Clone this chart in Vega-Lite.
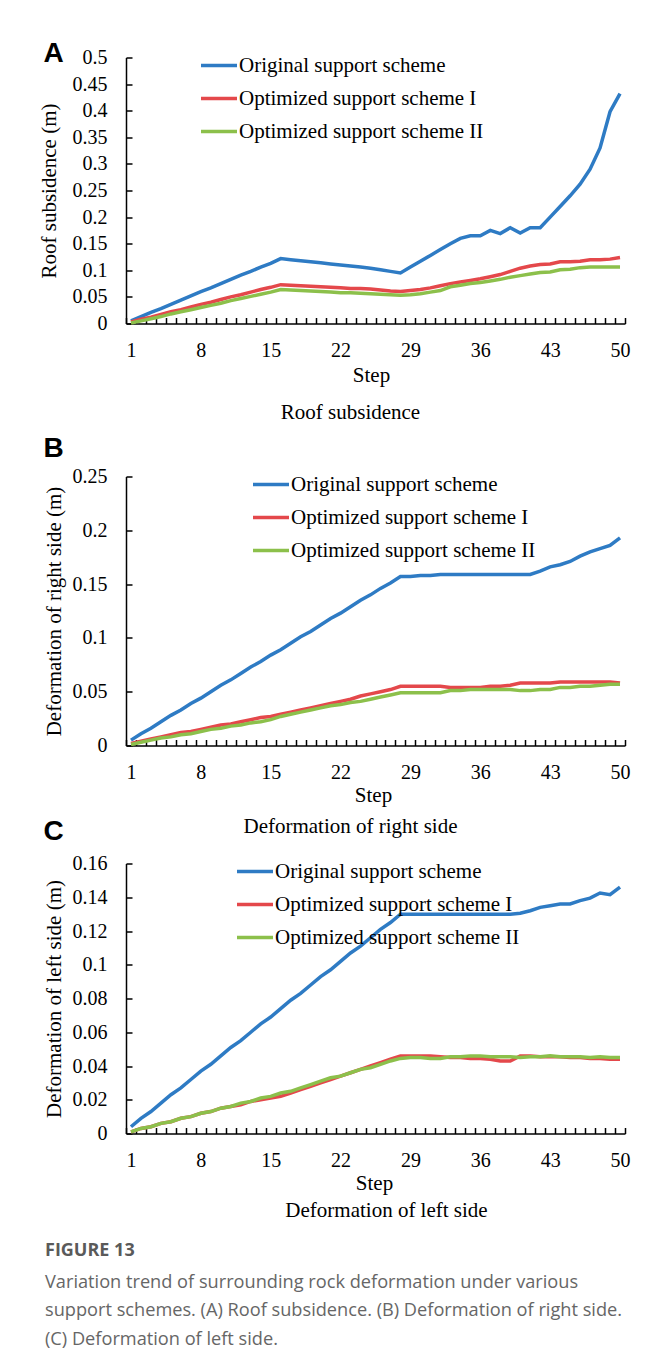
{
  "$schema": "https://vega.github.io/schema/vega-lite/v6.json",
  "background": "white",
  "padding": {"left": 38, "top": 38.5, "right": 0, "bottom": 10},
  "config": {
    "font": "Liberation Serif",
    "view": {"stroke": null},
    "axis": {"domainColor": "black", "domainWidth": 1.5, "tickColor": "black", "tickWidth": 1.5, "tickSize": 6, "grid": false, "labelFont": "Liberation Serif", "labelFontSize": 20, "labelColor": "black", "titleFont": "Liberation Serif", "titleFontSize": 21, "titleFontWeight": "normal", "titleColor": "black", "labelFlush": false, "labelOverlap": false, "labelBound": false},
    "legend": {"orient": "none", "symbolType": "stroke", "symbolSize": 1296, "symbolStrokeWidth": 4, "labelFont": "Liberation Serif", "labelFontSize": 21, "labelColor": "black", "labelOffset": 0, "rowPadding": 3, "labelLimit": 400, "title": null},
    "line": {"strokeWidth": 3.5}
  },
  "datasets": {
    "roof": [
      {"step":1,"original":0.005,"optimized1":0.003,"optimized2":0.001},
      {"step":2,"original":0.013,"optimized1":0.008,"optimized2":0.005},
      {"step":3,"original":0.021,"optimized1":0.012,"optimized2":0.009},
      {"step":4,"original":0.028,"optimized1":0.017,"optimized2":0.013},
      {"step":5,"original":0.036,"optimized1":0.022,"optimized2":0.018},
      {"step":6,"original":0.044,"optimized1":0.026,"optimized2":0.022},
      {"step":7,"original":0.052,"optimized1":0.031,"optimized2":0.026},
      {"step":8,"original":0.060,"optimized1":0.036,"optimized2":0.030},
      {"step":9,"original":0.067,"optimized1":0.040,"optimized2":0.034},
      {"step":10,"original":0.075,"optimized1":0.045,"optimized2":0.038},
      {"step":11,"original":0.083,"optimized1":0.050,"optimized2":0.043},
      {"step":12,"original":0.091,"optimized1":0.054,"optimized2":0.047},
      {"step":13,"original":0.098,"optimized1":0.059,"optimized2":0.051},
      {"step":14,"original":0.106,"optimized1":0.064,"optimized2":0.055},
      {"step":15,"original":0.113,"optimized1":0.068,"optimized2":0.059},
      {"step":16,"original":0.122,"optimized1":0.073,"optimized2":0.064},
      {"step":17,"original":0.120,"optimized1":0.072,"optimized2":0.063},
      {"step":18,"original":0.118,"optimized1":0.071,"optimized2":0.062},
      {"step":19,"original":0.116,"optimized1":0.070,"optimized2":0.061},
      {"step":20,"original":0.114,"optimized1":0.069,"optimized2":0.060},
      {"step":21,"original":0.112,"optimized1":0.068,"optimized2":0.059},
      {"step":22,"original":0.110,"optimized1":0.067,"optimized2":0.058},
      {"step":23,"original":0.108,"optimized1":0.066,"optimized2":0.058},
      {"step":24,"original":0.106,"optimized1":0.066,"optimized2":0.057},
      {"step":25,"original":0.104,"optimized1":0.065,"optimized2":0.056},
      {"step":26,"original":0.101,"optimized1":0.063,"optimized2":0.055},
      {"step":27,"original":0.098,"optimized1":0.061,"optimized2":0.054},
      {"step":28,"original":0.095,"optimized1":0.060,"optimized2":0.053},
      {"step":29,"original":0.106,"optimized1":0.062,"optimized2":0.054},
      {"step":30,"original":0.117,"optimized1":0.064,"optimized2":0.056},
      {"step":31,"original":0.128,"optimized1":0.067,"optimized2":0.059},
      {"step":32,"original":0.139,"optimized1":0.071,"optimized2":0.062},
      {"step":33,"original":0.150,"optimized1":0.075,"optimized2":0.069},
      {"step":34,"original":0.160,"optimized1":0.078,"optimized2":0.072},
      {"step":35,"original":0.165,"optimized1":0.081,"optimized2":0.075},
      {"step":36,"original":0.165,"optimized1":0.084,"optimized2":0.077},
      {"step":37,"original":0.175,"optimized1":0.088,"optimized2":0.080},
      {"step":38,"original":0.169,"optimized1":0.092,"optimized2":0.083},
      {"step":39,"original":0.180,"optimized1":0.098,"optimized2":0.087},
      {"step":40,"original":0.170,"optimized1":0.104,"optimized2":0.090},
      {"step":41,"original":0.180,"optimized1":0.108,"optimized2":0.093},
      {"step":42,"original":0.180,"optimized1":0.111,"optimized2":0.096},
      {"step":43,"original":0.200,"optimized1":0.112,"optimized2":0.097},
      {"step":44,"original":0.220,"optimized1":0.116,"optimized2":0.101},
      {"step":45,"original":0.240,"optimized1":0.116,"optimized2":0.102},
      {"step":46,"original":0.262,"optimized1":0.117,"optimized2":0.105},
      {"step":47,"original":0.290,"optimized1":0.120,"optimized2":0.106},
      {"step":48,"original":0.330,"optimized1":0.120,"optimized2":0.106},
      {"step":49,"original":0.398,"optimized1":0.121,"optimized2":0.106},
      {"step":50,"original":0.432,"optimized1":0.124,"optimized2":0.106}
    ],
    "right": [
      {"step":1,"original":0.005,"optimized1":0.002,"optimized2":0.001},
      {"step":2,"original":0.011,"optimized1":0.004,"optimized2":0.003},
      {"step":3,"original":0.016,"optimized1":0.006,"optimized2":0.005},
      {"step":4,"original":0.022,"optimized1":0.008,"optimized2":0.007},
      {"step":5,"original":0.028,"optimized1":0.010,"optimized2":0.008},
      {"step":6,"original":0.033,"optimized1":0.012,"optimized2":0.010},
      {"step":7,"original":0.039,"optimized1":0.013,"optimized2":0.011},
      {"step":8,"original":0.044,"optimized1":0.015,"optimized2":0.013},
      {"step":9,"original":0.050,"optimized1":0.017,"optimized2":0.015},
      {"step":10,"original":0.056,"optimized1":0.019,"optimized2":0.016},
      {"step":11,"original":0.061,"optimized1":0.020,"optimized2":0.018},
      {"step":12,"original":0.067,"optimized1":0.022,"optimized2":0.019},
      {"step":13,"original":0.073,"optimized1":0.024,"optimized2":0.021},
      {"step":14,"original":0.078,"optimized1":0.026,"optimized2":0.022},
      {"step":15,"original":0.084,"optimized1":0.027,"optimized2":0.024},
      {"step":16,"original":0.089,"optimized1":0.029,"optimized2":0.027},
      {"step":17,"original":0.095,"optimized1":0.031,"optimized2":0.029},
      {"step":18,"original":0.101,"optimized1":0.033,"optimized2":0.031},
      {"step":19,"original":0.106,"optimized1":0.035,"optimized2":0.033},
      {"step":20,"original":0.112,"optimized1":0.037,"optimized2":0.035},
      {"step":21,"original":0.118,"optimized1":0.039,"optimized2":0.037},
      {"step":22,"original":0.123,"optimized1":0.041,"optimized2":0.038},
      {"step":23,"original":0.129,"optimized1":0.043,"optimized2":0.040},
      {"step":24,"original":0.135,"optimized1":0.046,"optimized2":0.041},
      {"step":25,"original":0.140,"optimized1":0.048,"optimized2":0.043},
      {"step":26,"original":0.146,"optimized1":0.050,"optimized2":0.045},
      {"step":27,"original":0.151,"optimized1":0.052,"optimized2":0.047},
      {"step":28,"original":0.157,"optimized1":0.055,"optimized2":0.049},
      {"step":29,"original":0.157,"optimized1":0.055,"optimized2":0.049},
      {"step":30,"original":0.158,"optimized1":0.055,"optimized2":0.049},
      {"step":31,"original":0.158,"optimized1":0.055,"optimized2":0.049},
      {"step":32,"original":0.159,"optimized1":0.055,"optimized2":0.049},
      {"step":33,"original":0.159,"optimized1":0.054,"optimized2":0.051},
      {"step":34,"original":0.159,"optimized1":0.054,"optimized2":0.051},
      {"step":35,"original":0.159,"optimized1":0.054,"optimized2":0.052},
      {"step":36,"original":0.159,"optimized1":0.054,"optimized2":0.052},
      {"step":37,"original":0.159,"optimized1":0.055,"optimized2":0.052},
      {"step":38,"original":0.159,"optimized1":0.055,"optimized2":0.052},
      {"step":39,"original":0.159,"optimized1":0.056,"optimized2":0.052},
      {"step":40,"original":0.159,"optimized1":0.058,"optimized2":0.051},
      {"step":41,"original":0.159,"optimized1":0.058,"optimized2":0.051},
      {"step":42,"original":0.162,"optimized1":0.058,"optimized2":0.052},
      {"step":43,"original":0.166,"optimized1":0.058,"optimized2":0.052},
      {"step":44,"original":0.168,"optimized1":0.059,"optimized2":0.054},
      {"step":45,"original":0.171,"optimized1":0.059,"optimized2":0.054},
      {"step":46,"original":0.176,"optimized1":0.059,"optimized2":0.055},
      {"step":47,"original":0.180,"optimized1":0.059,"optimized2":0.055},
      {"step":48,"original":0.183,"optimized1":0.059,"optimized2":0.056},
      {"step":49,"original":0.186,"optimized1":0.059,"optimized2":0.057},
      {"step":50,"original":0.193,"optimized1":0.058,"optimized2":0.057}
    ],
    "left": [
      {"step":1,"original":0.004,"optimized1":0.001,"optimized2":0.001},
      {"step":2,"original":0.009,"optimized1":0.003,"optimized2":0.003},
      {"step":3,"original":0.013,"optimized1":0.004,"optimized2":0.004},
      {"step":4,"original":0.018,"optimized1":0.006,"optimized2":0.006},
      {"step":5,"original":0.023,"optimized1":0.007,"optimized2":0.007},
      {"step":6,"original":0.027,"optimized1":0.009,"optimized2":0.009},
      {"step":7,"original":0.032,"optimized1":0.010,"optimized2":0.010},
      {"step":8,"original":0.037,"optimized1":0.012,"optimized2":0.012},
      {"step":9,"original":0.041,"optimized1":0.013,"optimized2":0.013},
      {"step":10,"original":0.046,"optimized1":0.015,"optimized2":0.015},
      {"step":11,"original":0.051,"optimized1":0.016,"optimized2":0.016},
      {"step":12,"original":0.055,"optimized1":0.017,"optimized2":0.018},
      {"step":13,"original":0.060,"optimized1":0.019,"optimized2":0.019},
      {"step":14,"original":0.065,"optimized1":0.020,"optimized2":0.021},
      {"step":15,"original":0.069,"optimized1":0.021,"optimized2":0.022},
      {"step":16,"original":0.074,"optimized1":0.022,"optimized2":0.024},
      {"step":17,"original":0.079,"optimized1":0.024,"optimized2":0.025},
      {"step":18,"original":0.083,"optimized1":0.026,"optimized2":0.027},
      {"step":19,"original":0.088,"optimized1":0.028,"optimized2":0.029},
      {"step":20,"original":0.093,"optimized1":0.030,"optimized2":0.031},
      {"step":21,"original":0.097,"optimized1":0.032,"optimized2":0.033},
      {"step":22,"original":0.102,"optimized1":0.034,"optimized2":0.034},
      {"step":23,"original":0.107,"optimized1":0.036,"optimized2":0.036},
      {"step":24,"original":0.111,"optimized1":0.038,"optimized2":0.038},
      {"step":25,"original":0.116,"optimized1":0.040,"optimized2":0.039},
      {"step":26,"original":0.121,"optimized1":0.042,"optimized2":0.041},
      {"step":27,"original":0.125,"optimized1":0.044,"optimized2":0.043},
      {"step":28,"original":0.130,"optimized1":0.046,"optimized2":0.0445},
      {"step":29,"original":0.130,"optimized1":0.046,"optimized2":0.045},
      {"step":30,"original":0.130,"optimized1":0.046,"optimized2":0.045},
      {"step":31,"original":0.130,"optimized1":0.046,"optimized2":0.0445},
      {"step":32,"original":0.130,"optimized1":0.0455,"optimized2":0.0445},
      {"step":33,"original":0.130,"optimized1":0.045,"optimized2":0.0455},
      {"step":34,"original":0.130,"optimized1":0.045,"optimized2":0.0455},
      {"step":35,"original":0.130,"optimized1":0.0445,"optimized2":0.046},
      {"step":36,"original":0.130,"optimized1":0.0445,"optimized2":0.046},
      {"step":37,"original":0.130,"optimized1":0.044,"optimized2":0.0455},
      {"step":38,"original":0.130,"optimized1":0.043,"optimized2":0.0455},
      {"step":39,"original":0.130,"optimized1":0.043,"optimized2":0.0455},
      {"step":40,"original":0.1305,"optimized1":0.046,"optimized2":0.045},
      {"step":41,"original":0.132,"optimized1":0.046,"optimized2":0.0455},
      {"step":42,"original":0.134,"optimized1":0.0455,"optimized2":0.0455},
      {"step":43,"original":0.135,"optimized1":0.0455,"optimized2":0.046},
      {"step":44,"original":0.136,"optimized1":0.0455,"optimized2":0.0455},
      {"step":45,"original":0.136,"optimized1":0.045,"optimized2":0.0455},
      {"step":46,"original":0.138,"optimized1":0.045,"optimized2":0.0455},
      {"step":47,"original":0.1395,"optimized1":0.0445,"optimized2":0.045},
      {"step":48,"original":0.1425,"optimized1":0.0445,"optimized2":0.0455},
      {"step":49,"original":0.1415,"optimized1":0.044,"optimized2":0.045},
      {"step":50,"original":0.146,"optimized1":0.044,"optimized2":0.045}
    ]
  },
  "title": {
    "text": "FIGURE 13",
    "subtitle": ["Variation trend of surrounding rock deformation under various", "support schemes. (A) Roof subsidence. (B) Deformation of right side.", "(C) Deformation of left side."],
    "orient": "bottom", "anchor": "start", "frame": "bounds", "offset": 21, "dx": 7,
    "font": "Open Sans", "fontSize": 18, "fontWeight": "bold", "color": "#5a5a5a",
    "subtitleFont": "Open Sans", "subtitleFontSize": 18.2, "subtitleColor": "#666666", "subtitleLineHeight": 28.5, "subtitlePadding": 14
  },
  "bounds": "flush",
  "spacing": 153,
  "resolve": {"scale": {"color": "independent"}, "legend": {"color": "independent"}},
  "vconcat": [
    {
      "width": 499, "height": 266,
      "data": {"name": "roof"},
      "transform": [{"fold": ["original", "optimized1", "optimized2"], "as": ["scheme", "value"]}],
      "resolve": {"axis": {"x": "independent", "y": "independent"}},
      "layer": [
        {
          "mark": {"type": "line", "strokeWidth": 3.5},
          "encoding": {
            "x": {"field": "step", "type": "quantitative", "scale": {"domain": [0.5, 50.5], "nice": false, "zero": false},
              "axis": {"orient": "bottom", "ticks": false, "values": [0.5,7.5,14.5,21.5,28.5,35.5,42.5,49.5],
                "labelExpr": "format(datum.value + 0.5, 'd')", "labelOffset": 5, "labelPadding": 17,
                "title": "Step", "titleX": 245, "titleY": 52, "titleAlign": "center", "titleBaseline": "middle"}},
            "y": {"field": "value", "type": "quantitative", "scale": {"domain": [0, 0.5], "nice": false},
              "axis": {"orient": "left", "ticks": false, "values": [0,0.05,0.1,0.15,0.2,0.25,0.3,0.35,0.4,0.45,0.5], "format": "~g", "labelPadding": 19,
                "title": "Roof subsidence (m)", "titleX": -77, "titleY": 133, "titleAngle": 270, "titleAlign": "center", "titleBaseline": "middle"}},
            "color": {"field": "scheme", "type": "nominal", "scale": {"domain": ["original", "optimized1", "optimized2"], "range": ["#2E7BC4", "#E4484B", "#8CC04B"]},
              "legend": {"legendX": 73, "legendY": -12, "labelExpr": "datum.value == 'original' ? 'Original support scheme' : datum.value == 'optimized1' ? 'Optimized support scheme I' : 'Optimized support scheme II'"}}
          }
        },
        {
          "mark": {"type": "point", "opacity": 0},
          "encoding": {
            "x": {"field": "step", "type": "quantitative", "scale": {"domain": [0.5, 50.5], "nice": false, "zero": false},
              "axis": {"orient": "bottom", "domain": false, "ticks": false, "labels": false,
                "grid": true, "gridColor": "black", "gridWidth": 1.5, "gridDash": [6, 2000], "gridDashOffset": 1746,
                "values": [0.5,1.5,2.5,3.5,4.5,5.5,6.5,7.5,8.5,9.5,10.5,11.5,12.5,13.5,14.5,15.5,16.5,17.5,18.5,19.5,20.5,21.5,22.5,23.5,24.5,25.5,26.5,27.5,28.5,29.5,30.5,31.5,32.5,33.5,34.5,35.5,36.5,37.5,38.5,39.5,40.5,41.5,42.5,43.5,44.5,45.5,46.5,47.5,48.5,49.5,50.5],
                "title": "Roof subsidence", "titleX": 224, "titleY": 89, "titleAlign": "center", "titleBaseline": "middle"}},
            "y": {"field": "value", "type": "quantitative", "scale": {"domain": [0, 0.5], "nice": false},
              "axis": {"orient": "left", "domain": false, "ticks": false, "labels": false,
                "grid": true, "gridColor": "black", "gridWidth": 1.5, "gridDash": [6, 2000], "gridDashOffset": 0,
                "values": [0,0.05,0.1,0.15,0.2,0.25,0.3,0.35,0.4,0.45,0.5],
                "title": "A", "titleAngle": 0, "titleX": -83, "titleY": -4.5, "titleAlign": "left", "titleBaseline": "middle", "titleFont": "Liberation Sans", "titleFontWeight": "bold", "titleFontSize": 28}}
          }
        }
      ]
    },
    {
      "bounds": "flush",
      "spacing": 118,
      "resolve": {"scale": {"color": "independent"}, "legend": {"color": "independent"}},
      "vconcat": [
        {
          "width": 499, "height": 269,
          "data": {"name": "right"},
          "transform": [{"fold": ["original", "optimized1", "optimized2"], "as": ["scheme", "value"]}],
          "resolve": {"axis": {"x": "independent", "y": "independent"}},
          "layer": [
            {
              "mark": {"type": "line", "strokeWidth": 3.5},
              "encoding": {
                "x": {"field": "step", "type": "quantitative", "scale": {"domain": [0.5, 50.5], "nice": false, "zero": false},
                  "axis": {"orient": "bottom", "ticks": false, "values": [0.5,7.5,14.5,21.5,28.5,35.5,42.5,49.5],
                    "labelExpr": "format(datum.value + 0.5, 'd')", "labelOffset": 5, "labelPadding": 17,
                    "title": "Step", "titleX": 247, "titleY": 50, "titleAlign": "center", "titleBaseline": "middle"}},
                "y": {"field": "value", "type": "quantitative", "scale": {"domain": [0, 0.25], "nice": false},
                  "axis": {"orient": "left", "ticks": false, "values": [0,0.05,0.1,0.15,0.2,0.25], "format": "~g", "labelPadding": 19,
                    "title": "Deformation of right side (m)", "titleX": -72, "titleY": 134.5, "titleAngle": 270, "titleAlign": "center", "titleBaseline": "middle"}},
                "color": {"field": "scheme", "type": "nominal", "scale": {"domain": ["original", "optimized1", "optimized2"], "range": ["#2E7BC4", "#E4484B", "#8CC04B"]},
                  "legend": {"legendX": 125, "legendY": -12, "labelExpr": "datum.value == 'original' ? 'Original support scheme' : datum.value == 'optimized1' ? 'Optimized support scheme I' : 'Optimized support scheme II'"}}
              }
            },
            {
              "mark": {"type": "point", "opacity": 0},
              "encoding": {
                "x": {"field": "step", "type": "quantitative", "scale": {"domain": [0.5, 50.5], "nice": false, "zero": false},
                  "axis": {"orient": "bottom", "domain": false, "ticks": false, "labels": false,
                    "grid": true, "gridColor": "black", "gridWidth": 1.5, "gridDash": [6, 2000], "gridDashOffset": 1743,
                    "values": [0.5,1.5,2.5,3.5,4.5,5.5,6.5,7.5,8.5,9.5,10.5,11.5,12.5,13.5,14.5,15.5,16.5,17.5,18.5,19.5,20.5,21.5,22.5,23.5,24.5,25.5,26.5,27.5,28.5,29.5,30.5,31.5,32.5,33.5,34.5,35.5,36.5,37.5,38.5,39.5,40.5,41.5,42.5,43.5,44.5,45.5,46.5,47.5,48.5,49.5,50.5],
                    "title": "Deformation of right side", "titleX": 224, "titleY": 81, "titleAlign": "center", "titleBaseline": "middle"}},
                "y": {"field": "value", "type": "quantitative", "scale": {"domain": [0, 0.25], "nice": false},
                  "axis": {"orient": "left", "domain": false, "ticks": false, "labels": false,
                    "grid": true, "gridColor": "black", "gridWidth": 1.5, "gridDash": [6, 2000], "gridDashOffset": 0,
                    "values": [0,0.05,0.1,0.15,0.2,0.25],
                    "title": "B", "titleAngle": 0, "titleX": -83, "titleY": -28, "titleAlign": "left", "titleBaseline": "middle", "titleFont": "Liberation Sans", "titleFontWeight": "bold", "titleFontSize": 28}}
              }
            }
          ]
        },
        {
          "width": 499, "height": 270,
          "data": {"name": "left"},
          "transform": [{"fold": ["original", "optimized1", "optimized2"], "as": ["scheme", "value"]}],
          "resolve": {"axis": {"x": "independent", "y": "independent"}},
          "layer": [
            {
              "mark": {"type": "line", "strokeWidth": 3.5},
              "encoding": {
                "x": {"field": "step", "type": "quantitative", "scale": {"domain": [0.5, 50.5], "nice": false, "zero": false},
                  "axis": {"orient": "bottom", "ticks": false, "values": [0.5,7.5,14.5,21.5,28.5,35.5,42.5,49.5],
                    "labelExpr": "format(datum.value + 0.5, 'd')", "labelOffset": 5, "labelPadding": 17,
                    "title": "Step", "titleX": 248, "titleY": 50, "titleAlign": "center", "titleBaseline": "middle"}},
                "y": {"field": "value", "type": "quantitative", "scale": {"domain": [0, 0.16], "nice": false},
                  "axis": {"orient": "left", "ticks": false, "values": [0,0.02,0.04,0.06,0.08,0.1,0.12,0.14,0.16], "format": "~g", "labelPadding": 19,
                    "title": "Deformation of left side (m)", "titleX": -72, "titleY": 135, "titleAngle": 270, "titleAlign": "center", "titleBaseline": "middle"}},
                "color": {"field": "scheme", "type": "nominal", "scale": {"domain": ["original", "optimized1", "optimized2"], "range": ["#2E7BC4", "#E4484B", "#8CC04B"]},
                  "legend": {"legendX": 109, "legendY": -12, "labelExpr": "datum.value == 'original' ? 'Original support scheme' : datum.value == 'optimized1' ? 'Optimized support scheme I' : 'Optimized support scheme II'"}}
              }
            },
            {
              "mark": {"type": "point", "opacity": 0},
              "encoding": {
                "x": {"field": "step", "type": "quantitative", "scale": {"domain": [0.5, 50.5], "nice": false, "zero": false},
                  "axis": {"orient": "bottom", "domain": false, "ticks": false, "labels": false,
                    "grid": true, "gridColor": "black", "gridWidth": 1.5, "gridDash": [6, 2000], "gridDashOffset": 1742,
                    "values": [0.5,1.5,2.5,3.5,4.5,5.5,6.5,7.5,8.5,9.5,10.5,11.5,12.5,13.5,14.5,15.5,16.5,17.5,18.5,19.5,20.5,21.5,22.5,23.5,24.5,25.5,26.5,27.5,28.5,29.5,30.5,31.5,32.5,33.5,34.5,35.5,36.5,37.5,38.5,39.5,40.5,41.5,42.5,43.5,44.5,45.5,46.5,47.5,48.5,49.5,50.5],
                    "title": "Deformation of left side", "titleX": 260, "titleY": 77, "titleAlign": "center", "titleBaseline": "middle"}},
                "y": {"field": "value", "type": "quantitative", "scale": {"domain": [0, 0.16], "nice": false},
                  "axis": {"orient": "left", "domain": false, "ticks": false, "labels": false,
                    "grid": true, "gridColor": "black", "gridWidth": 1.5, "gridDash": [6, 2000], "gridDashOffset": 0,
                    "values": [0,0.02,0.04,0.06,0.08,0.1,0.12,0.14,0.16],
                    "title": "C", "titleAngle": 0, "titleX": -83, "titleY": -32, "titleAlign": "left", "titleBaseline": "middle", "titleFont": "Liberation Sans", "titleFontWeight": "bold", "titleFontSize": 28}}
              }
            }
          ]
        }
      ]
    }
  ]
}
